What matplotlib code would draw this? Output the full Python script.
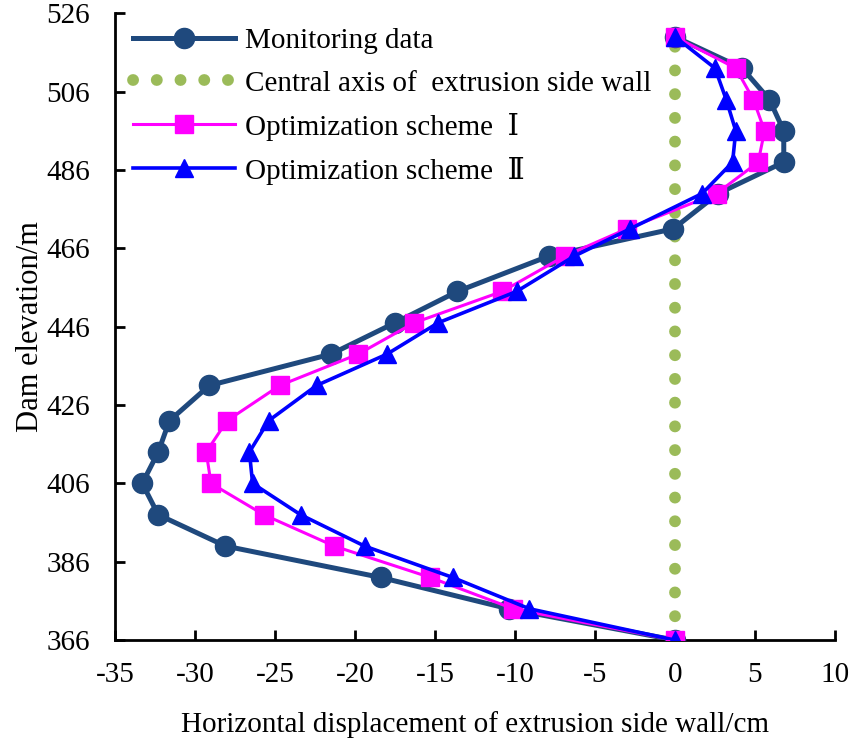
import numpy as np
import matplotlib.pyplot as plt

plt.rcParams['font.family'] = ['Liberation Serif', 'DejaVu Serif']
plt.rcParams['axes.unicode_minus'] = False

# elevations (m), bottom to top
elev = [366, 374, 382, 390, 398, 406, 414, 422, 431, 439,
        447, 455, 464, 471, 480, 488, 496, 504, 512, 520]

monitoring = [0, -10.4, -18.4, -28.1, -32.3, -33.3, -32.3, -31.6, -29.1, -21.5,
              -17.5, -13.6, -7.9, -0.1, 2.7, 6.8, 6.8, 5.9, 4.2, 0]
scheme1 = [0, -10.1, -15.3, -21.3, -25.7, -29.0, -29.3, -28.0, -24.7, -19.8,
           -16.3, -10.8, -6.9, -3.0, 2.6, 5.2, 5.6, 4.9, 3.8, 0]
scheme2 = [0, -9.1, -13.9, -19.4, -23.4, -26.4, -26.6, -25.4, -22.4, -18.0,
           -14.8, -9.9, -6.3, -2.8, 1.7, 3.6, 3.8, 3.2, 2.5, 0]

axis_x = [0, 0]
axis_y = [366, 520]

xticks = np.arange(-35, 11, 5)
yticks = np.arange(366, 527, 20)

fig = plt.figure(figsize=(8.52, 7.40), dpi=100)
ax = fig.add_axes([0.135, 0.135, 0.845, 0.847])

ax.plot(monitoring, elev, color='#1F497D', lw=3.6, marker='o', ms=14.5,
        label='Monitoring data', zorder=3)
ax.plot(axis_x, axis_y, color='#9BBB59', lw=8.5, dashes=(0.01, 2.0),
        dash_capstyle='round', label='Central axis of  extrusion side wall', zorder=2)
ax.plot(scheme1, elev, color='#FF00FF', lw=2.2, marker='s', ms=13,
        label='Optimization scheme  Ⅰ', zorder=4)
ax.plot(scheme2, elev, color='#0000FF', lw=2.6, marker='^', ms=13,
        label='Optimization scheme  Ⅱ', zorder=5)

ax.set_xlim(-35, 10)
ax.set_ylim(366, 526)
ax.set_xticks(xticks)
ax.set_yticks(yticks)
ax.spines['top'].set_visible(False)
ax.spines['right'].set_visible(False)
ax.spines['left'].set_linewidth(2)
ax.spines['bottom'].set_linewidth(2)
ax.tick_params(direction='in', length=7, width=2, labelsize=21)
ax.tick_params(axis='y', pad=18)
ax.tick_params(axis='x', pad=16)

ax.set_xlabel('Horizontal displacement of extrusion side wall/cm', fontsize=21, labelpad=16)
ax.set_ylabel('Dam elevation/m', fontsize=22, labelpad=1)

ax.legend(loc='upper left', bbox_to_anchor=(0.0, 1.005), frameon=False, fontsize=21,
          handlelength=3.5, handletextpad=0.35, labelspacing=0.55, borderaxespad=0.2)

fig.savefig('out.png', dpi=100)
